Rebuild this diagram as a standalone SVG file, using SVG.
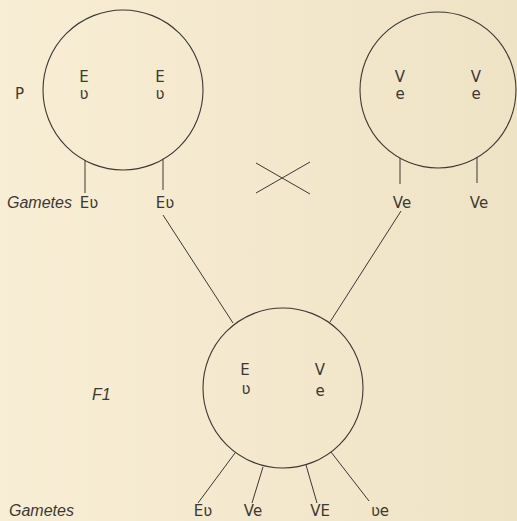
<svg xmlns="http://www.w3.org/2000/svg" width="517" height="521" viewBox="0 0 517 521">
<defs>
<linearGradient id="bg" x1="0" y1="0" x2="1" y2="0">
<stop offset="0" stop-color="#f8eed5"/>
<stop offset="1" stop-color="#efe3c6"/>
</linearGradient>
<style>
.c{fill:none;stroke:#3c3833;stroke-width:1.1}
.l{stroke:#3c3833;stroke-width:1;fill:none}
text{font-family:"DejaVu Sans","Liberation Sans",sans-serif;font-size:15px;fill:#3c3833;text-anchor:middle}
.s{font-size:15px}
.i{font-family:"Liberation Sans","DejaVu Sans",sans-serif;font-size:16px;font-style:italic;text-anchor:start}
</style>
</defs>
<rect width="517" height="521" fill="url(#bg)"/>
<g id="parent1">
<circle class="c" cx="123" cy="90" r="80"/>
<text x="84" y="82">E</text><text class="s" x="84" y="99">ʋ</text>
<text x="160" y="82">E</text><text class="s" x="160" y="99">ʋ</text>
</g>
<g id="parent2">
<circle class="c" cx="438" cy="90" r="78"/>
<text x="400" y="82">V</text><text class="s" x="400" y="99">e</text>
<text x="476" y="82">V</text><text class="s" x="476" y="99">e</text>
</g>
<g id="f1">
<circle class="c" cx="283" cy="388" r="80"/>
<text x="245" y="375">E</text><text class="s" x="246" y="394">ʋ</text>
<text x="320" y="375">V</text><text class="s" x="320" y="396">e</text>
</g>
<g id="labels">
<text x="15" y="99" style="text-anchor:start">P</text>
<text class="i" x="7" y="208">Gametes</text>
<text class="i" x="92" y="400">F1</text>
<text class="i" x="9" y="516">Gametes</text>
</g>
<g id="gametes">
<text x="89" y="208">Eʋ</text>
<text x="165" y="208">Eʋ</text>
<text x="402" y="208">Ve</text>
<text x="479" y="208">Ve</text>
<text x="203" y="516">Eʋ</text>
<text x="253" y="516">Ve</text>
<text x="320" y="516">VE</text>
<text x="380" y="516">ʋe</text>
</g>
<g id="connectors">
<line class="l" x1="85" y1="160" x2="85" y2="193"/>
<line class="l" x1="163" y1="159" x2="163" y2="190"/>
<line class="l" x1="400" y1="158" x2="400" y2="184"/>
<line class="l" x1="477" y1="157" x2="477" y2="183"/>
<line class="l" x1="163" y1="215" x2="233" y2="323"/>
<line class="l" x1="401" y1="211" x2="330" y2="322"/>
<line class="l" x1="256" y1="163" x2="310" y2="194"/>
<line class="l" x1="256" y1="193" x2="310" y2="162"/>
<line class="l" x1="235" y1="453" x2="198" y2="503"/>
<line class="l" x1="263" y1="467" x2="252" y2="503"/>
<line class="l" x1="306" y1="465" x2="317" y2="503"/>
<line class="l" x1="331" y1="452" x2="369" y2="501"/>
</g>
</svg>
